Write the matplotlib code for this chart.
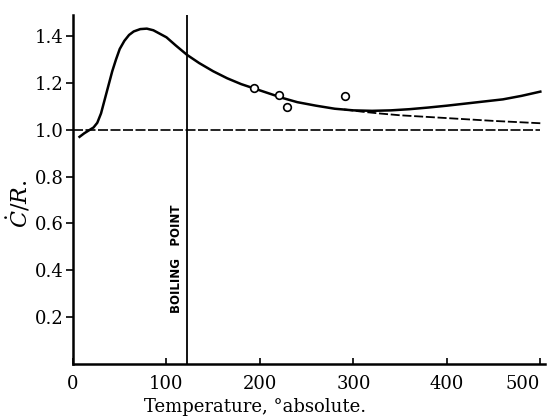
import matplotlib
matplotlib.use("Agg")
import matplotlib.pyplot as plt

# smoothed curve of C/R against temperature
temp_curve = [7, 12, 18, 22, 26, 30, 34, 38, 42, 46, 50, 55, 60, 65, 72, 79, 86, 93,
              100, 110, 122, 135, 150, 165, 180, 195, 210, 225, 240, 260, 280, 300,
              320, 340, 360, 380, 400, 420, 440, 460, 480, 500]
cr_curve = [0.97, 0.985, 1.0, 1.01, 1.03, 1.07, 1.13, 1.19, 1.25, 1.30, 1.345, 1.38,
            1.405, 1.42, 1.43, 1.432, 1.425, 1.41, 1.395, 1.36, 1.32, 1.285, 1.25,
            1.22, 1.195, 1.175, 1.155, 1.135, 1.118, 1.103, 1.09, 1.083, 1.081,
            1.083, 1.088, 1.095, 1.103, 1.112, 1.121, 1.13, 1.145, 1.163]

# dashed branch
temp_dash = [290, 310, 330, 350, 375, 400, 425, 450, 475, 500]
cr_dash = [1.087, 1.077, 1.069, 1.062, 1.056, 1.05, 1.044, 1.038, 1.033, 1.028]

# measured points
temp_obs = [194, 220, 229, 291]
cr_obs = [1.178, 1.148, 1.097, 1.146]

boiling_point = 122
xticks = [0, 100, 200, 300, 400, 500]
yticks = [0.2, 0.4, 0.6, 0.8, 1.0, 1.2, 1.4]

plt.rcParams['font.family'] = 'DejaVu Serif'
plt.rcParams['mathtext.fontset'] = 'dejavuserif'

fig = plt.figure(figsize=(5.5, 4.18), dpi=100)
ax = fig.add_axes([0.1327, 0.1292, 0.8582, 0.8348])

ax.plot(temp_curve, cr_curve, color='black', linewidth=1.8)
ax.plot(temp_dash, cr_dash, color='black', linewidth=1.3, linestyle=(0, (5, 1.5)))
ax.plot([0, 500], [1.0, 1.0], color='black', linewidth=1.2, linestyle=(0, (6, 1.5)))
ax.plot(temp_obs, cr_obs, 'o', markerfacecolor='white', markeredgecolor='black',
        markersize=5.5, markeredgewidth=1.2)
ax.axvline(boiling_point, color='black', linewidth=1.3)

ax.text(111, 0.45, 'BOILING   POINT', rotation=90, ha='center', va='center',
        family='DejaVu Sans', fontweight='bold', fontsize=8.5)

ax.set_xlim(0, 505)
ax.set_ylim(0, 1.49)
ax.set_xticks(xticks)
ax.set_xticklabels([str(v) for v in xticks])
ax.get_xticklabels()[-1].set_horizontalalignment('right')
ax.set_yticks(yticks)
ax.set_yticklabels([f'{v:.1f}' for v in yticks])

ax.spines['top'].set_visible(False)
ax.spines['right'].set_visible(False)
ax.spines['left'].set_linewidth(1.8)
ax.spines['bottom'].set_linewidth(1.8)
ax.tick_params(axis='y', direction='out', length=5, width=1.2, labelsize=13, pad=2)
ax.tick_params(axis='x', direction='in', length=4, width=1.2, labelsize=13, pad=8)

ax.set_xlabel('Temperature, °absolute.', fontsize=13)
ax.xaxis.set_label_coords(0.386, -0.098)
ax.set_ylabel(r'$\dot{C}/R.$', fontsize=16)
ax.yaxis.set_label_coords(-0.085, 0.46)

fig.savefig('out.png', dpi=100)
